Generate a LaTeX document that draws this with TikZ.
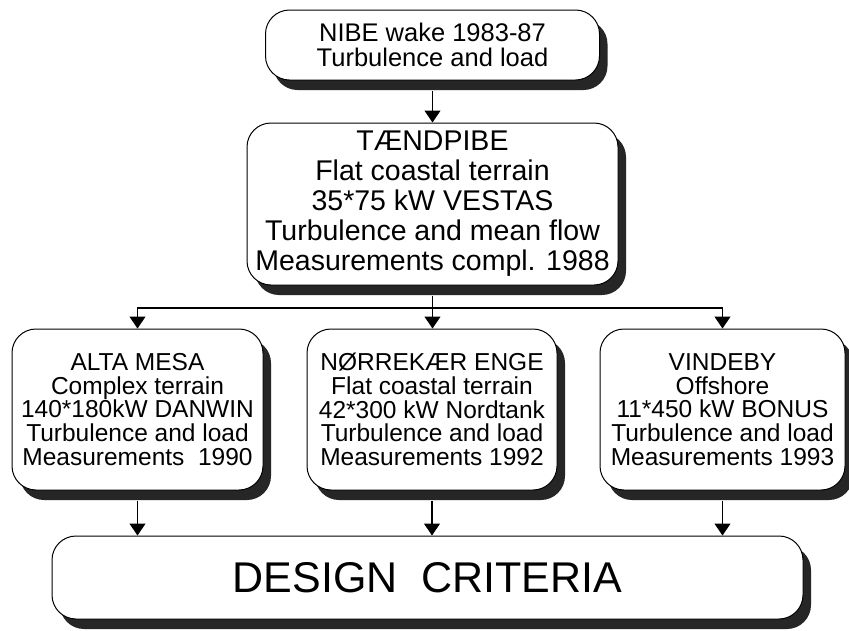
\documentclass[tikz,border=0pt]{standalone}
\usepackage{fontspec}
\setmainfont{Liberation Sans}
\usetikzlibrary{arrows.meta,shadows}
\begin{document}
\begin{tikzpicture}[x=1pt,y=-1pt,
  box/.style={draw=black,line width=1pt,rounded corners=24pt,fill=white,align=center,inner sep=0pt,
     drop shadow={shadow xshift=8pt,shadow yshift=-10pt,fill=black!85,opacity=1}},
  small/.style={font=\fontsize{24.5}{23.7}\selectfont},
  arr/.style={line width=1.2pt,-{Triangle[width=16pt,length=12pt]}},
  ln/.style={line width=1.2pt}]
\useasboundingbox (0,0) rectangle (849,630);
\fill[white] (0,0) rectangle (849,630);
\node[box,minimum width=334pt,minimum height=70pt,font=\fontsize{25.5}{25}\selectfont] (nibe) at (432.5,45)
  {NIBE wake 1983-87\\Turbulence and load};
\node[box,minimum width=371pt,minimum height=162pt,font=\fontsize{28.5}{30}\selectfont] (taend) at (432.5,204)
  {TÆNDPIBE\\Flat coastal terrain\\35*75 kW VESTAS\\Turbulence and mean flow\\Measurements compl. 1988};
\node[box,small,minimum width=251pt,minimum height=161pt] (alta) at (137.5,409.5)
  {ALTA MESA\\Complex terrain\\140*180kW DANWIN\\Turbulence and load\\Measurements~~1990};
\node[box,small,minimum width=250pt,minimum height=161pt] (norre) at (432,409.5)
  {NØRREKÆR ENGE\\Flat coastal terrain\\42*300 kW Nordtank\\Turbulence and load\\Measurements 1992};
\node[box,small,minimum width=245pt,minimum height=161pt] (vinde) at (722.5,409.5)
  {VINDEBY\\Offshore\\11*450 kW BONUS\\Turbulence and load\\Measurements 1993};
\node[box,minimum width=751pt,minimum height=83pt,font=\fontsize{43}{45}\selectfont] (design) at (427.5,577.5)
  {DESIGN~~CRITERIA};
\coordinate (hub) at (432.5,308);
\draw[arr] ([yshift=-10pt]nibe.south) -- (taend.north);
\draw[ln] ([yshift=-10pt]taend.south) -- (hub);
\draw[arr] (hub) -| (alta.north);
\draw[arr] (hub) -- (hub |- norre.north);
\draw[arr] (hub) -| (vinde.north);
\draw[arr] ([yshift=-10pt]alta.south) -- (alta.south |- design.north);
\draw[arr] ([yshift=-10pt]norre.south) -- (norre.south |- design.north);
\draw[arr] ([yshift=-10pt]vinde.south) -- (vinde.south |- design.north);
\end{tikzpicture}
\end{document}
